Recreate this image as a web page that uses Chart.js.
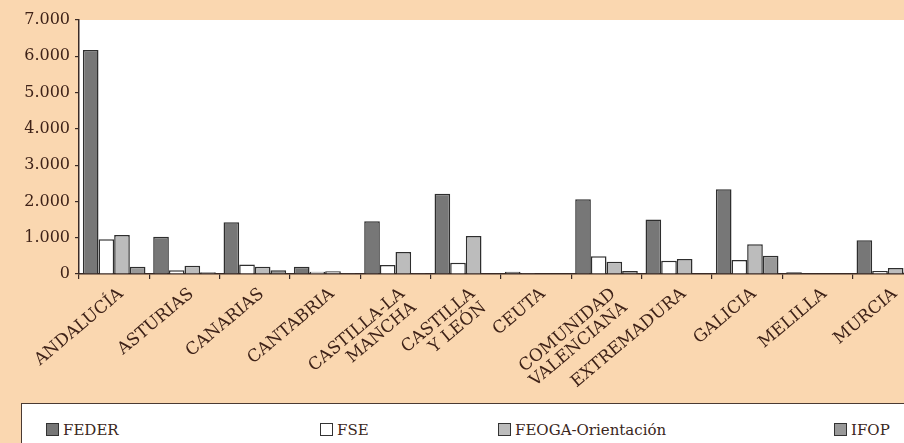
<!DOCTYPE html>
<html>
<head>
<meta charset="utf-8">
<script src="https://cdn.jsdelivr.net/npm/chart.js@4"></script>
<style>
  html, body { margin: 0; padding: 0; overflow: hidden; background: #fad7b0; }
  #wrap { position: relative; width: 904px; height: 443px; overflow: hidden; background: #fad7b0; }
  #c { position: absolute; left: 0; top: 0; }
  #legend { position: absolute; left: 21px; top: 403px; width: 1000px; height: 80px; background: #fff; border: 1.5px solid #4a3a32; }
  .item { position: absolute; top: 18px; font-family: "DejaVu Serif"; font-size: 15px; color: #3a2620; white-space: nowrap; line-height: 16px; }
  .sw { display: inline-block; width: 11px; height: 11px; border: 1px solid #333; margin-right: 4px; vertical-align: -1px; }
</style>
</head>
<body>
<div id="wrap">
  <canvas id="c" width="930" height="400"></canvas>
  <div id="legend"></div>
</div>
<script>
// Regiones (eje X)
var regiones = [
  "ANDALUCÍA", "ASTURIAS", "CANARIAS", "CANTABRIA", ["CASTILLA-LA", "MANCHA"],
  ["CASTILLA", "Y LEÓN"], "CEUTA", ["COMUNIDAD", "VALENCIANA"], "EXTREMADURA",
  "GALICIA", "MELILLA", "MURCIA"
];

// Series (millones)
var feder = [6170, 1030, 1425, 200, 1455, 2215, 60, 2060, 1500, 2335, 45, 930];
var fse   = [955, 100, 265, 65, 250, 310, 20, 490, 365, 385, 10, 85];
var feoga = [1075, 230, 200, 75, 605, 1050, 5, 340, 415, 820, 5, 165];
var ifop  = [200, 50, 100, 18, 18, 15, 5, 85, 10, 505, 5, 60];

var seriesNames = ["FEDER", "FSE", "FEOGA-Orientación", "IFOP"];
var seriesColors = ["#777777", "#ffffff", "#bcbcbc", "#999999"];
var legendLeft = [24, 298, 476, 812];

var textColor = "#3e2218";
var axisColor = "#3a2a25";

// white background only behind the plot area
var fondoBlanco = {
  id: "fondoBlanco",
  beforeDraw: function (chart) {
    var a = chart.chartArea, ctx = chart.ctx;
    ctx.save();
    ctx.fillStyle = "#ffffff";
    ctx.fillRect(a.left, a.top, a.right - a.left, a.bottom - a.top);
    ctx.restore();
  }
};

function ds(i, values) {
  return {
    label: seriesNames[i],
    data: values,
    backgroundColor: seriesColors[i],
    borderColor: "#2e2e2e",
    borderWidth: 1.5,
    categoryPercentage: 0.89,
    barPercentage: 1.0
  };
}

var ctx = document.getElementById("c").getContext("2d");
var chart = new Chart(ctx, {
  type: "bar",
  data: {
    labels: regiones,
    datasets: [ds(0, feder), ds(1, fse), ds(2, feoga), ds(3, ifop)]
  },
  options: {
    responsive: false,
    animation: false,
    layout: { padding: { top: 20, right: 7, left: 0, bottom: 0 } },
    plugins: {
      legend: { display: false },
      tooltip: { enabled: false }
    },
    scales: {
      x: {
        afterFit: function (s) { s.height = 126; },
        grid: { drawOnChartArea: false, offset: true, tickLength: 5, color: axisColor, lineWidth: 1.2 },
        border: { color: axisColor, width: 1.5 },
        ticks: {
          autoSkip: false,
          maxRotation: 40,
          minRotation: 40,
          padding: 6,
          labelOffset: 7,
          color: textColor,
          font: { family: "DejaVu Serif", size: 17, lineHeight: 1.05 }
        }
      },
      y: {
        min: 0,
        max: 7000,
        afterFit: function (s) { s.width = 79; },
        grid: { drawOnChartArea: false, tickLength: 4, color: axisColor, lineWidth: 1.2 },
        border: { color: axisColor, width: 1.5 },
        ticks: {
          stepSize: 1000,
          padding: 5,
          color: textColor,
          font: { family: "DejaVu Serif", size: 16 },
          callback: function (v) { return String(v).replace(/\B(?=(\d{3})+(?!\d))/g, "."); }
        }
      }
    }
  },
  plugins: [fondoBlanco]
});

// legend built from the datasets
var lg = document.getElementById("legend");
chart.data.datasets.forEach(function (d, i) {
  var it = document.createElement("div");
  it.className = "item";
  it.style.left = legendLeft[i] + "px";
  var sw = document.createElement("span");
  sw.className = "sw";
  sw.style.background = d.backgroundColor;
  it.appendChild(sw);
  it.appendChild(document.createTextNode(d.label));
  lg.appendChild(it);
});
</script>
</body>
</html>
